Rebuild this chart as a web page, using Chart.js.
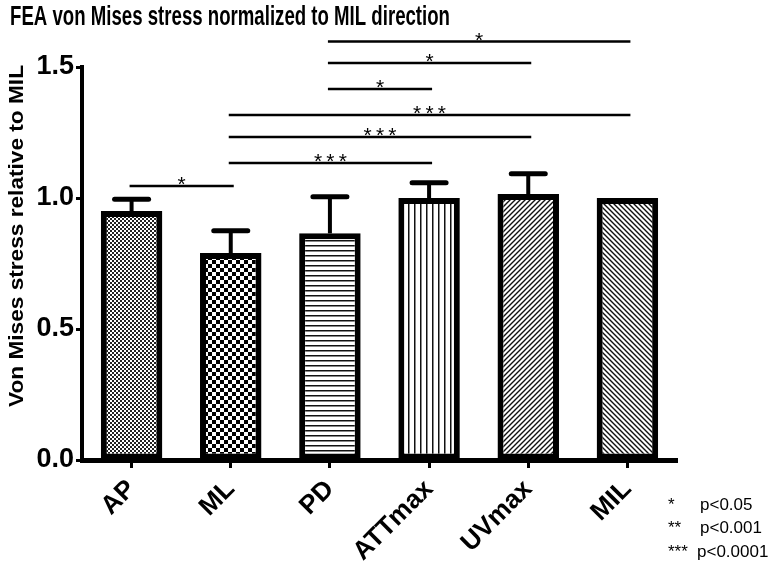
<!DOCTYPE html>
<html>
<head>
<meta charset="utf-8">
<script src="https://cdn.jsdelivr.net/npm/chart.js@4"></script>
<style>
  html, body { margin: 0; padding: 0; background: #fff; }
  #wrap { width: 777px; height: 573px; position: relative; }
</style>
</head>
<body>
<div id="wrap"><canvas id="chart"></canvas></div>
<script>
// Data
const categories = ['AP', 'ML', 'PD', 'ATTmax', 'UVmax', 'MIL'];
const means = [0.95, 0.79, 0.865, 1.0, 1.015, 1.0];
const errors = [0.045, 0.085, 0.14, 0.058, 0.078, 0];
const yTicks = [0, 0.5, 1.0, 1.5];
// comparisons: [from index, to index, stars, height in y units]
const sigPairs = [
    [0, 1, '*', 1.046],
    [1, 3, '***', 1.134],
    [1, 4, '***', 1.233],
    [1, 5, '***', 1.317],
    [2, 3, '*', 1.416],
    [2, 4, '*', 1.515],
    [2, 5, '*', 1.597]
];
const legendRows = [['*', 'p<0.05'], ['**', 'p<0.001'], ['***', 'p<0.0001']];

const FONT = '"Liberation Sans", Arial, sans-serif';
const NARROW = '"Liberation Sans Narrow", "Liberation Sans", Arial, sans-serif';

// Fill patterns for each bar
function makePattern(kind) {
    const c = document.createElement('canvas');
    const g = c.getContext('2d');
    let s = 4;
    if (kind === 'fine') {
        s = 4; c.width = c.height = s;
        g.fillStyle = '#fff'; g.fillRect(0, 0, s, s);
        g.fillStyle = '#222';
        g.fillRect(0, 0, 2, 2); g.fillRect(2, 2, 2, 2);
    } else if (kind === 'check') {
        s = 8; c.width = c.height = s;
        g.fillStyle = '#fff'; g.fillRect(0, 0, s, s);
        g.fillStyle = '#000';
        g.fillRect(0, 0, 4, 4); g.fillRect(4, 4, 4, 4);
    } else if (kind === 'hline') {
        s = 5; c.width = c.height = s;
        g.fillStyle = '#fff'; g.fillRect(0, 0, s, s);
        g.fillStyle = '#111'; g.fillRect(0, 0, s, 1.5);
    } else if (kind === 'vline') {
        s = 6; c.width = c.height = s;
        g.fillStyle = '#fff'; g.fillRect(0, 0, s, s);
        g.fillStyle = '#111'; g.fillRect(0, 0, 1.5, s);
    } else {
        s = 5; c.width = c.height = s;
        g.fillStyle = '#fff'; g.fillRect(0, 0, s, s);
        g.strokeStyle = '#111'; g.lineWidth = 1.4;
        g.beginPath();
        if (kind === 'diagUp') {
            for (let k = -1; k <= 1; k++) {
                g.moveTo(k * s - 1, s + 1); g.lineTo(k * s + s + 1, -1);
            }
        } else {
            for (let k = -1; k <= 1; k++) {
                g.moveTo(k * s - 1, -1); g.lineTo(k * s + s + 1, s + 1);
            }
        }
        g.stroke();
    }
    return g.createPattern(c, 'repeat');
}

const fills = ['fine', 'check', 'hline', 'vline', 'diagUp', 'diagDown'].map(makePattern);

// Error bars
const errorBarPlugin = {
    id: 'errorBars',
    afterDatasetsDraw(chart) {
        const ctx = chart.ctx;
        const meta = chart.getDatasetMeta(0);
        const y = chart.scales.y;
        ctx.save();
        ctx.strokeStyle = '#000';
        meta.data.forEach((bar, i) => {
            if (!errors[i]) return;
            const yTop = y.getPixelForValue(means[i] + errors[i]);
            ctx.lineWidth = 4;
            ctx.lineCap = 'butt';
            ctx.beginPath();
            ctx.moveTo(bar.x, bar.y);
            ctx.lineTo(bar.x, yTop);
            ctx.stroke();
            ctx.lineWidth = 5;
            ctx.lineCap = 'round';
            ctx.beginPath();
            ctx.moveTo(bar.x - 17, yTop);
            ctx.lineTo(bar.x + 17, yTop);
            ctx.stroke();
        });
        ctx.restore();
    }
};

// Significance lines, title, y title, legend
const annotatePlugin = {
    id: 'annotate',
    afterDraw(chart) {
        const ctx = chart.ctx;
        const x = chart.scales.x;
        const y = chart.scales.y;
        ctx.save();
        ctx.fillStyle = '#000';
        ctx.strokeStyle = '#000';

        sigPairs.forEach(([a, b, stars, level]) => {
            const x1 = x.getPixelForValue(a) - 2;
            const x2 = x.getPixelForValue(b) + 3;
            const py = y.getPixelForValue(level);
            ctx.lineWidth = 2.5;
            ctx.beginPath();
            ctx.moveTo(x1, py);
            ctx.lineTo(x2, py);
            ctx.stroke();
            ctx.font = '21px ' + FONT;
            ctx.textAlign = 'center';
            ctx.textBaseline = 'alphabetic';
            ctx.fillText(stars.split('').join('\u2009'), (x1 + x2) / 2, py + 5);
        });

        // chart title, squeezed to the original width
        ctx.font = 'bold 28px ' + NARROW;
        ctx.textAlign = 'left';
        ctx.textBaseline = 'alphabetic';
        const title = 'FEA von Mises stress normalized to MIL direction';
        const tw = ctx.measureText(title).width;
        ctx.save();
        ctx.translate(10, 25);
        ctx.scale(440 / tw, 1);
        ctx.fillText(title, 0, 0);
        ctx.restore();

        // y axis title
        const yTitle = 'Von Mises stress relative to MIL';
        ctx.font = 'bold 20px ' + FONT;
        const yw = ctx.measureText(yTitle).width;
        ctx.save();
        ctx.translate(23, 236);
        ctx.rotate(-Math.PI / 2);
        ctx.scale(342 / yw, 1);
        ctx.textAlign = 'center';
        ctx.fillText(yTitle, 0, 0);
        ctx.restore();

        // p-value legend
        ctx.font = '17px ' + FONT;
        ctx.textAlign = 'left';
        ctx.textBaseline = 'middle';
        legendRows.forEach(([s, txt], i) => {
            const ry = 505 + i * 23.5;
            ctx.fillText(s, 668, ry);
            ctx.fillText(txt, i === 2 ? 697 : 700, ry);
        });
        ctx.restore();
    }
};

const ctx = document.getElementById('chart').getContext('2d');
new Chart(ctx, {
    type: 'bar',
    data: {
        labels: categories,
        datasets: [{
            data: means,
            backgroundColor: fills,
            borderColor: '#000',
            borderWidth: 6,
            borderSkipped: false,
            barPercentage: 0.62,
            categoryPercentage: 1.0
        }]
    },
    options: {
        responsive: true,
        maintainAspectRatio: false,
        animation: false,
        layout: {
            padding: { top: 67, right: 100, left: 0, bottom: 0 }
        },
        plugins: {
            legend: { display: false },
            title: { display: false },
            tooltip: { enabled: false }
        },
        scales: {
            x: {
                afterFit: (s) => { s.height = 113; },
                border: { display: true, color: '#000', width: 5 },
                grid: {
                    display: true,
                    drawOnChartArea: false,
                    offset: false,
                    color: '#000',
                    tickLength: 8,
                    tickWidth: 3
                },
                ticks: {
                    color: '#000',
                    maxRotation: 45,
                    minRotation: 45,
                    padding: 6,
                    font: { family: FONT, size: 26, weight: 'bold' }
                }
            },
            y: {
                min: 0,
                max: 1.5,
                afterFit: (s) => { s.width = 82; },
                afterBuildTicks: (s) => { s.ticks = yTicks.map(v => ({ value: v })); },
                border: { display: true, color: '#000', width: 4 },
                grid: {
                    display: true,
                    drawOnChartArea: false,
                    color: '#000',
                    tickLength: 6,
                    tickWidth: 3
                },
                ticks: {
                    color: '#000',
                    padding: 2,
                    callback: (v) => v.toFixed(1),
                    font: { family: FONT, size: 27, weight: 'bold' }
                }
            }
        }
    },
    plugins: [errorBarPlugin, annotatePlugin]
});
</script>
</body>
</html>
